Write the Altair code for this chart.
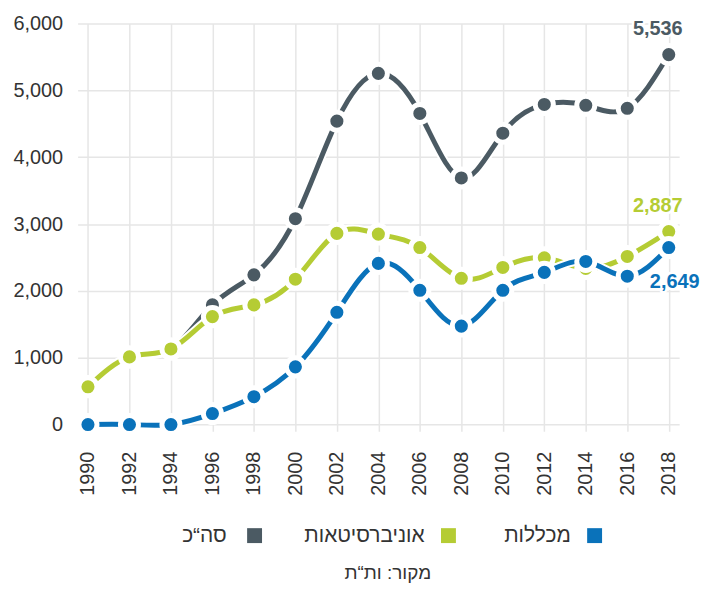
import altair as alt
import pandas as pd

# ---- data ----
years = [1990, 1992, 1994, 1996, 1998, 2000, 2002, 2004, 2006, 2008, 2010, 2012, 2014, 2016, 2018]
total = [570, 1010, 1130, 1790, 2240, 3080, 4540, 5255, 4655, 3690, 4360, 4790, 4777, 4732, 5536]
universities = [565, 1012, 1131, 1615, 1790, 2175, 2860, 2850, 2649, 2188, 2351, 2495, 2336, 2515, 2887]
colleges = [0, 0, 0, 164, 417, 863, 1680, 2411, 2009, 1473, 2009, 2277, 2440, 2220, 2649]

series_names = ["סה“כ", "אוניברסיטאות", "מכללות"]
series_values = [total, universities, colleges]
colors = ["#4b5a63", "#b5cc34", "#0a72ba"]
y_ticks = [0, 1000, 2000, 3000, 4000, 5000, 6000]
source_text = "מקור: ות“ת"

FONT = "Liberation Sans"
TEXT_COLOR = "#333333"

rows = []
for name, vals in zip(series_names, series_values):
    for yr, v in zip(years, vals):
        rows.append({"year": yr, "value": v, "series": name})
df = pd.DataFrame(rows)

x_enc = alt.X(
    "year:Q",
    scale=alt.Scale(domain=[1989.5, 2018.5], nice=False, zero=False),
    axis=alt.Axis(values=years, format="d", labelAngle=270, title=None,
                  labelPadding=20, grid=True, ticks=False, domain=False,
                  labelFontSize=20, labelColor=TEXT_COLOR, labelFont=FONT),
)
y_enc = alt.Y(
    "value:Q",
    scale=alt.Scale(domain=[-100, 6000], nice=False, zero=False),
    axis=alt.Axis(values=y_ticks, format=",.0f", title=None, labelPadding=15,
                  grid=True, ticks=False, domain=False,
                  labelFontSize=20, labelColor=TEXT_COLOR, labelFont=FONT),
)

layers = []
for name, c in zip(series_names, colors):
    base = alt.Chart(df).transform_filter(alt.datum.series == name)
    layers.append(base.mark_line(interpolate="natural", color="white", strokeWidth=9)
                  .encode(x=x_enc, y=y_enc))
    layers.append(base.mark_line(interpolate="natural", color=c, strokeWidth=5)
                  .encode(x=x_enc, y=y_enc))
    layers.append(base.mark_circle(size=330, color=c, opacity=1, stroke="white", strokeWidth=5)
                  .encode(x=x_enc, y=y_enc))

# end labels (last value of each series)
label_offsets = [(-11, -26), (-11, -26), (6, 35)]
for name, c, (dx, dy) in zip(series_names, colors, label_offsets):
    base = alt.Chart(df).transform_filter(
        (alt.datum.series == name) & (alt.datum.year == years[-1]))
    layers.append(base.mark_text(font=FONT, fontSize=20, fontWeight="bold", dx=dx, dy=dy,
                                 stroke="white", strokeWidth=5, strokeJoin="round")
                  .encode(x=x_enc, y=y_enc, text=alt.Text("value:Q", format=",.0f")))
    layers.append(base.mark_text(font=FONT, fontSize=20, fontWeight="bold", dx=dx, dy=dy, color=c)
                  .encode(x=x_enc, y=y_enc, text=alt.Text("value:Q", format=",.0f")))

# manual right-to-left legend
one = pd.DataFrame({"k": [0]})
legend_pos = [(178, 150), (373, 349), (520, 496)]  # (square x, text right x) in plot px
for name, c, (sx, tx) in zip(series_names, colors, legend_pos):
    layers.append(alt.Chart(one).mark_square(size=225, color=c, opacity=1)
                  .encode(x=alt.value(sx), y=alt.value(515)))
    layers.append(alt.Chart(one).mark_text(text=name, font=FONT, fontSize=21, color=TEXT_COLOR,
                                           align="right", baseline="middle")
                  .encode(x=alt.value(tx), y=alt.value(515)))

layers.append(alt.Chart(one).mark_text(text=source_text, font=FONT, fontSize=19, color=TEXT_COLOR,
                                       align="center", baseline="middle")
              .encode(x=alt.value(312), y=alt.value(553)))

chart = alt.layer(*layers).properties(
    width=605, height=410,
    padding={"left": 4, "top": 4, "right": 0, "bottom": 0},
).configure_view(stroke=None).configure_axis(
    gridColor="#e6e6e6", gridWidth=1.5
)

chart.save("out.html", embed_options={"renderer": "svg", "actions": False})
